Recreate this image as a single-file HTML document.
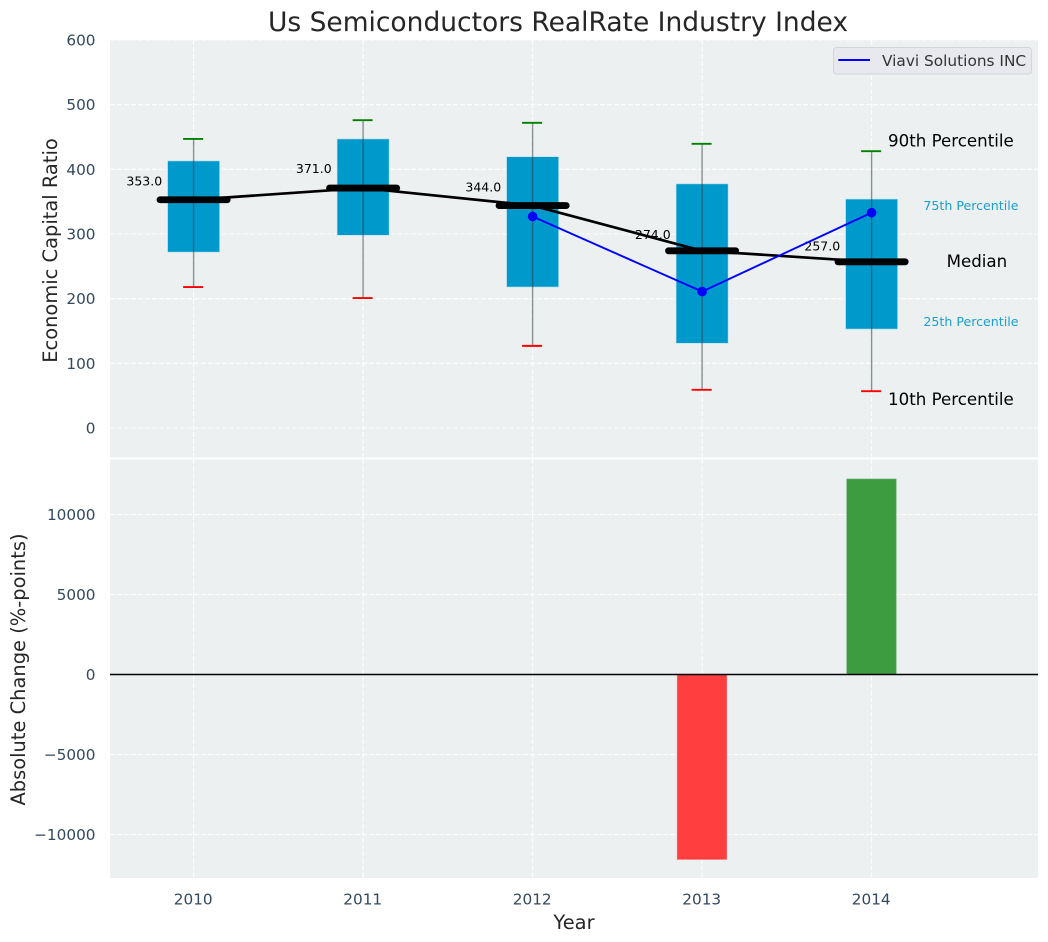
<!DOCTYPE html>
<html lang="en">
<head>
<meta charset="utf-8">
<title>Us Semiconductors RealRate Industry Index</title>
<style>
html,body{margin:0;padding:0;background:#fff;}
svg{display:block;font-family:"DejaVu Sans","Liberation Sans",sans-serif;}
</style>
</head>
<body>
<svg id="chart" xmlns="http://www.w3.org/2000/svg" width="1048" height="942" viewBox="0 0 1048 942"></svg>
<script>
const years = [2010, 2011, 2012, 2013, 2014];
const p90 = [447, 476, 472, 439.5, 428];
const q3 = [413, 447, 419.5, 377.5, 354];
const medians = [353, 371, 344, 274, 257];
const q1 = [272, 298, 218, 131, 153];
const p10 = [218, 201, 127, 59, 57];
const viaviYears = [2012, 2013, 2014];
const viaviValues = [327, 211, 333];
const changeYears = [2013, 2014];
const changeValues = [-11560, 12220];
const topTicks = [0, 100, 200, 300, 400, 500, 600];
const bottomTicks = [-10000, -5000, 0, 5000, 10000];

const svg = document.getElementById('chart');
const NS = 'http://www.w3.org/2000/svg';
const plotL = 110, plotR = 1038;
const topT = 40, topB = 457.5, botT = 459.5, botB = 878;

const xPos = year => 193.6 + (year - 2010) * 169.5;
const yTop = v => 428 - v * 0.64667;
const yBot = v => 674.5 - v * 0.016;
const fmtTick = v => (v < 0 ? '\u2212' + Math.abs(v) : String(v));

function make(tag, attrs, text, parent) {
  const e = document.createElementNS(NS, tag);
  for (const k in attrs) e.setAttribute(k, attrs[k]);
  if (text !== undefined) e.textContent = text;
  (parent || svg).appendChild(e);
  return e;
}
let el;

/* axes backgrounds */
el = make('rect', {x: plotL, y: topT, width: plotR - plotL, height: topB - topT, fill: '#ecf0f1'});


el = make('rect', {x: plotL, y: botT, width: plotR - plotL, height: botB - botT, fill: '#ecf0f1'});



const gridStyle = {stroke: '#ffffff', 'stroke-width': 1.1, 'stroke-opacity': 0.9, 'stroke-dasharray': '5 2', fill: 'none'};

/* horizontal grid + y ticks, top panel */
topTicks.forEach(t => {
  const y = yTop(t);
  el = make('line', Object.assign({x1: plotL, x2: plotR, y1: y, y2: y}, gridStyle));
  
  
  el = make('text', {x: 95.5, y: y + 5.5, 'text-anchor': 'end', 'font-size': 15.28, fill: '#34495e'}, fmtTick(t));
  
  
});

/* horizontal grid + y ticks, bottom panel */
bottomTicks.forEach(t => {
  const y = yBot(t);
  el = make('line', Object.assign({x1: plotL, x2: plotR, y1: y, y2: y}, gridStyle));
  
  
  el = make('text', {x: 95.5, y: y + 5.5, 'text-anchor': 'end', 'font-size': 15.28, fill: '#34495e'}, fmtTick(t));
  
  
});

/* vertical grid + x ticks */
years.forEach(yr => {
  const x = xPos(yr);
  el = make('line', Object.assign({x1: x, x2: x, y1: topT, y2: topB}, gridStyle));
  
  
  el = make('line', Object.assign({x1: x, x2: x, y1: botT, y2: botB}, gridStyle));
  
  
  el = make('text', {x: x - 0.4, y: 904.5, 'text-anchor': 'middle', 'font-size': 15.28, fill: '#34495e'}, String(yr));
  
  
});

/* boxes */
years.forEach((yr, i) => {
  const x = xPos(yr);
  el = make('rect', {x: x - 26, y: yTop(q3[i]), width: 52, height: yTop(q1[i]) - yTop(q3[i]), fill: '#0099cc', stroke: '#b9dfec', 'stroke-width': 0.6});
  
  
});

/* whiskers and caps */
years.forEach((yr, i) => {
  const x = xPos(yr);
  el = make('line', {x1: x, x2: x, y1: yTop(p90[i]), y2: yTop(p10[i]), stroke: '#2b3a42', 'stroke-opacity': 0.55, 'stroke-width': 1.4});
  
  
  el = make('line', {x1: x - 10.5, x2: x + 9.5, y1: yTop(p90[i]), y2: yTop(p90[i]), stroke: '#008000', 'stroke-width': 1.9});
  
  
  el = make('line', {x1: x - 10.5, x2: x + 9.5, y1: yTop(p10[i]), y2: yTop(p10[i]), stroke: '#ff0000', 'stroke-width': 1.9});
  
  
});

/* median trend line */
el = make('polyline', {points: years.map((yr, i) => xPos(yr) + ',' + yTop(medians[i])).join(' '), fill: 'none', stroke: '#000000', 'stroke-width': 2.7});



/* median bars and value labels */
years.forEach((yr, i) => {
  const x = xPos(yr), y = yTop(medians[i]);
  el = make('line', {x1: x - 33.6, x2: x + 33.6, y1: y, y2: y, stroke: '#000000', 'stroke-width': 6.8, 'stroke-linecap': 'round'});
  
  
  el = make('text', {x: x - 31.4, y: yTop(medians[i] * 1.05) - 3, 'text-anchor': 'end', 'font-size': 12.5, fill: '#000000'}, medians[i].toFixed(1));
  
  
});

/* Viavi series */
el = make('polyline', {points: viaviYears.map((yr, i) => xPos(yr) + ',' + yTop(viaviValues[i])).join(' '), fill: 'none', stroke: '#0000ff', 'stroke-width': 1.9});


viaviYears.forEach((yr, i) => {
  el = make('circle', {cx: xPos(yr), cy: yTop(viaviValues[i]), r: 4.8, fill: '#0000ff'});
  
  
});

/* percentile key annotations, anchored to the last year */
const lastIdx = years.length - 1;
const lastX = xPos(years[lastIdx]);
el = make('text', {x: lastX + 16.4, y: yTop(p90[lastIdx]) - 4.5, 'font-size': 16.67, fill: '#000000'}, '90th Percentile');


el = make('text', {x: lastX + 51.8, y: yTop(q3[lastIdx]) + 11, 'font-size': 12.6, fill: '#1a9fcf'}, '75th Percentile');


el = make('text', {x: lastX + 75, y: yTop(medians[lastIdx]) + 5.2, 'font-size': 16.67, fill: '#000000'}, 'Median');


el = make('text', {x: lastX + 51.8, y: yTop(q1[lastIdx]) - 3, 'font-size': 12.6, fill: '#1a9fcf'}, '25th Percentile');


el = make('text', {x: lastX + 16.4, y: yTop(p10[lastIdx]) + 14, 'font-size': 16.67, fill: '#000000'}, '10th Percentile');



/* change bars */
changeYears.forEach((yr, i) => {
  const v = changeValues[i];
  const y0 = yBot(Math.max(v, 0)), y1 = yBot(Math.min(v, 0));
  el = make('rect', {x: xPos(yr) - 24.9, y: y0, width: 49.5, height: y1 - y0, fill: v < 0 ? '#ff3f3f' : '#3d9c3f', stroke: v < 0 ? '#ff7070' : '#6cb26c', 'stroke-width': 0.6});
  
  
});

/* zero line */
el = make('line', {x1: plotL, x2: plotR, y1: yBot(0), y2: yBot(0), stroke: '#000000', 'stroke-width': 1.4});



/* legend */
el = make('rect', {x: 833.5, y: 47.5, width: 198, height: 26.5, rx: 3, fill: '#e8e9ee', stroke: '#d3d5da', 'stroke-width': 1});


el = make('line', {x1: 838.3, x2: 870, y1: 60, y2: 60, stroke: '#0000ff', 'stroke-width': 2});


el = make('text', {x: 882, y: 66, 'font-size': 15.35, fill: '#333333'}, 'Viavi Solutions INC');



/* titles */
el = make('text', {x: 558, y: 31, 'text-anchor': 'middle', 'font-size': 26.5, fill: '#262626'}, 'Us Semiconductors RealRate Industry Index');


el = make('text', {x: 574, y: 929, 'text-anchor': 'middle', 'font-size': 19.44, fill: '#262626'}, 'Year');


el = make('text', {transform: 'translate(57 250.5) rotate(-90)', 'text-anchor': 'middle', 'font-size': 19.44, fill: '#262626'}, 'Economic Capital Ratio');


el = make('text', {transform: 'translate(25 669.5) rotate(-90)', 'text-anchor': 'middle', 'font-size': 19.44, fill: '#262626'}, 'Absolute Change (%-points)');


</script>
</body>
</html>
